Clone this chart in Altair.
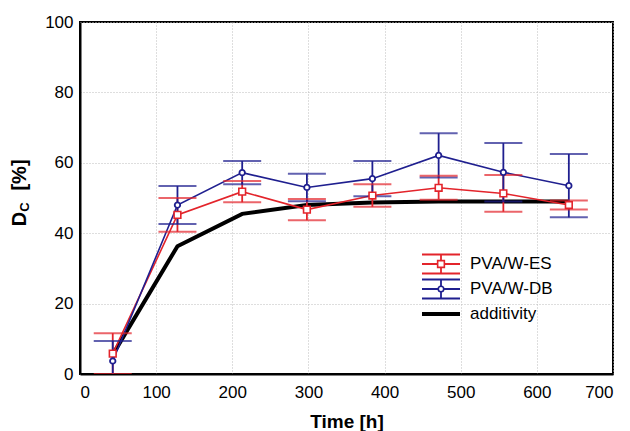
import altair as alt
import pandas as pd

# ---- data ----
time_h = [43, 128, 213, 298, 384, 471, 556, 642]
es_mean = [5.8, 45.2, 51.8, 46.7, 50.7, 52.9, 51.3, 48.0]
es_err = [5.8, 4.8, 3.0, 3.0, 3.2, 3.4, 5.2, 1.3]
db_mean = [3.7, 48.0, 57.2, 53.0, 55.5, 62.1, 57.3, 53.5]
db_err = [5.7, 5.4, 3.3, 3.9, 5.0, 6.3, 8.3, 9.0]
add_mean = [5.5, 36.3, 45.5, 48.0, 48.7, 49.0, 49.0, 49.0]

series_names = ["PVA/W-ES", "PVA/W-DB", "additivity"]
colors = ["#e3242b", "#1f1f8f", "#000000"]

rows = []
for t, m, e in zip(time_h, es_mean, es_err):
    rows.append({"series": series_names[0], "t": t, "mean": m, "lo": m - e, "hi": m + e})
for t, m, e in zip(time_h, db_mean, db_err):
    rows.append({"series": series_names[1], "t": t, "mean": m, "lo": m - e, "hi": m + e})
df = pd.DataFrame(rows)
df_add = pd.DataFrame({"t": time_h, "mean": add_mean})

W, H = 533, 352
FONT = "Liberation Sans"

xs = alt.Scale(domain=[0, 700], nice=False, zero=False)
ys = alt.Scale(domain=[0, 100], nice=False)
col = alt.Color("series:N", scale=alt.Scale(domain=series_names[:2], range=colors[:2]), legend=None)

X = alt.X("t:Q", scale=xs, axis=alt.Axis(values=list(range(0, 701, 100)), title="Time [h]",
                                          labelPadding=10, titlePadding=12))
Y = alt.Y("mean:Q", scale=ys, axis=alt.Axis(values=list(range(0, 101, 20)), title=None,
                                            labelPadding=7))

add_line = alt.Chart(df_add).mark_line(color="black", strokeWidth=4).encode(x=X, y=Y)

base = alt.Chart(df)
lines = base.mark_line(strokeWidth=1.6).encode(x=X, y=Y, color=col, detail="series:N")
err = base.mark_rule(strokeWidth=1.8, clip=True).encode(x="t:Q", y="lo:Q", y2="hi:Q", color=col)
cap_lo = base.mark_tick(orient="horizontal", size=38, thickness=2, clip=True).encode(
    x="t:Q", y="lo:Q", color=col)
cap_hi = base.mark_tick(orient="horizontal", size=38, thickness=2, clip=True).encode(
    x="t:Q", y="hi:Q", color=col)
pts_es = base.transform_filter(alt.datum.series == series_names[0]).mark_point(
    shape="square", size=45, filled=False, fill="white", fillOpacity=1, strokeWidth=1.6,
    color=colors[0]).encode(x="t:Q", y="mean:Q")
pts_db = base.transform_filter(alt.datum.series == series_names[1]).mark_point(
    shape="circle", size=30, filled=False, fill="white", fillOpacity=1, strokeWidth=1.8,
    color=colors[1]).encode(x="t:Q", y="mean:Q")

# ---- manual legend (pixel positions inside plot) ----
lx0, lx1, lxc, ltx = 342, 380, 361, 390
row_y = [242, 267, 292]
half = 9.5
leg = []
for i in range(2):
    c = colors[i]
    yc = row_y[i]
    for yy in (yc - half, yc, yc + half):
        leg.append(alt.Chart().mark_rule(color=c, strokeWidth=1.8).encode(
            x=alt.value(lx0), x2=alt.value(lx1), y=alt.value(yy)))
    leg.append(alt.Chart().mark_rule(color=c, strokeWidth=1.8).encode(
        x=alt.value(lxc), y=alt.value(yc - half), y2=alt.value(yc + half)))
    leg.append(alt.Chart().mark_point(shape="square" if i == 0 else "circle",
                                      size=45 if i == 0 else 30, filled=False, fill="white",
                                      fillOpacity=1, strokeWidth=1.6, color=c).encode(
        x=alt.value(lxc), y=alt.value(yc)))
leg.append(alt.Chart().mark_rule(color="black", strokeWidth=4).encode(
    x=alt.value(lx0), x2=alt.value(lx1), y=alt.value(row_y[2])))
for i in range(3):
    leg.append(alt.Chart().mark_text(text=series_names[i], align="left", baseline="middle",
                                     font=FONT, fontSize=17, color="black").encode(
        x=alt.value(ltx), y=alt.value(row_y[i])))

# ---- y-axis title with subscript ----
ytitle = [
    alt.Chart().mark_text(text="D", angle=270, align="center", baseline="middle",
                          font=FONT, fontSize=20, fontWeight="bold", color="black").encode(
        x=alt.value(-60), y=alt.value(197)),
    alt.Chart().mark_text(text="C", angle=270, align="center", baseline="middle",
                          font=FONT, fontSize=13, fontWeight="bold", color="black").encode(
        x=alt.value(-55), y=alt.value(185)),
    alt.Chart().mark_text(text="[%]", angle=270, align="center", baseline="middle",
                          font=FONT, fontSize=20, fontWeight="bold", color="black").encode(
        x=alt.value(-60), y=alt.value(153)),
]

chart = alt.layer(add_line, lines, err, cap_lo, cap_hi, pts_es, pts_db, *leg, *ytitle).properties(
    width=W, height=H,
    background="white",
    autosize=alt.AutoSizeParams(type="none"),
    padding={"left": 72, "top": 14, "right": 9, "bottom": 58},
).configure_view(stroke="black", strokeWidth=2).configure_axis(
    domainColor="black", domainWidth=2, ticks=False,
    gridColor="#bdbdbd", gridDash=[1, 2], gridWidth=1,
    labelFont=FONT, labelFontSize=17, labelColor="black",
    titleFont=FONT, titleFontSize=19, titleFontWeight="bold", titleColor="black",
)

chart.save("out.html", embed_options={"renderer": "svg", "actions": False})
